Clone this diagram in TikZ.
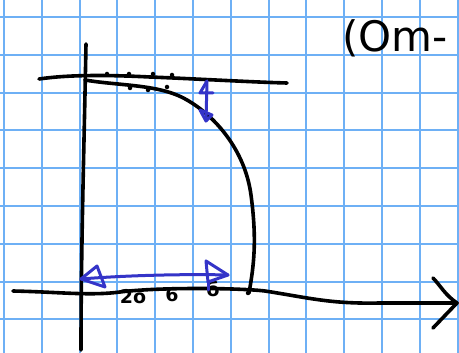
\documentclass[tikz,border=0pt]{standalone}
\usepackage{fontspec}
\setmainfont{DejaVu Sans}
\begin{document}
\begin{tikzpicture}[x=1pt,y=-1pt,
  gridline/.style={draw=gridblue,line width=2pt},
  ink/.style={draw=black,line width=3.6pt,line cap=round,line join=round},
  blueink/.style={draw=penblue,line width=3pt,line cap=round,line join=round},
  dot/.style={fill=black,circle,inner sep=0pt,minimum size=4.5pt},
  hand/.style={font=\fontsize{19}{19}\selectfont\bfseries,inner sep=0pt}]
\definecolor{gridblue}{RGB}{110,176,245}
\definecolor{penblue}{RGB}{52,52,200}
\useasboundingbox (0,0) rectangle (459,353);
\fill[white] (0,0) rectangle (459,353);
% grid
\foreach \i in {0,...,12} {\draw[gridline] ({4+37.8*\i},0) -- ({4+37.8*\i},353);}
\foreach \j in {0,...,8} {\draw[gridline] (0,{17+37.8*\j}) -- (459,{17+37.8*\j});}
% title
\node[anchor=west,inner sep=0pt,font=\fontsize{42}{42}\selectfont] (title) at (342,38) {(Om-};
% coordinates
\coordinate (vtop) at (86,44);
\coordinate (vbot) at (81,350);
\coordinate (hstart) at (13,291);
\coordinate (hend) at (457,303);
\coordinate (ttop1) at (39,79);
\coordinate (ttop2) at (287,83);
\coordinate (cstart) at (85,80);
\coordinate (cend) at (249,293);
% axes
\draw[ink] (vtop) .. controls (84,150) and (81,250) .. (vbot);
\draw[ink] (hstart) .. controls (60,292) and (90,296) .. (120,292)
  .. controls (160,287) and (240,288) .. (265,291)
  .. controls (310,298) and (330,304) .. (380,303) -- (hend);
\draw[ink] (433,278) .. controls (440,285) and (445,295) .. (hend) -- (433,328);
% top line
\draw[ink] (ttop1) .. controls (60,76) and (90,74) .. (150,77)
  .. controls (200,79) and (250,82) .. (ttop2);
% curve
\draw[ink] (cstart) .. controls (120,86) and (160,84) .. (187,100)
  .. controls (215,116) and (245,150) .. (251,195)
  .. controls (257,240) and (254,265) .. (cend);
% dots
\foreach \p in {(107,74),(129,74),(153,74),(172,75),(130,88),(148,90),(167,87),(248,293)}
  {\node[dot] at \p {};}
% handwritten numbers
\node[hand] (n1) at (133,297) {2o};
\node[hand] (n2) at (172,295) {6};
\node[hand] (n3) at (213,289) {б};
% blue vertical arrow
\coordinate (vb1) at (207,81);
\coordinate (vb2) at (206,121);
\draw[blueink] (vb1) -- (vb2);
\draw[blueink] (vb1) -- (200,93) -- (213,93);
\draw[blueink] (200,110) -- (212,115) -- (vb2) -- cycle;
% blue horizontal arrow
\coordinate (hb1) at (81,279);
\coordinate (hb2) at (228,275);
\draw[blueink] (hb1) .. controls (130,275) and (190,274) .. (hb2);
\draw[blueink] (hb1) -- (97,266) -- (105,287) -- cycle;
\draw[blueink] (206,261) -- (208,282) -- (hb2) -- cycle;
\draw[blueink] (208,282) -- (208,290);
\end{tikzpicture}
\end{document}
